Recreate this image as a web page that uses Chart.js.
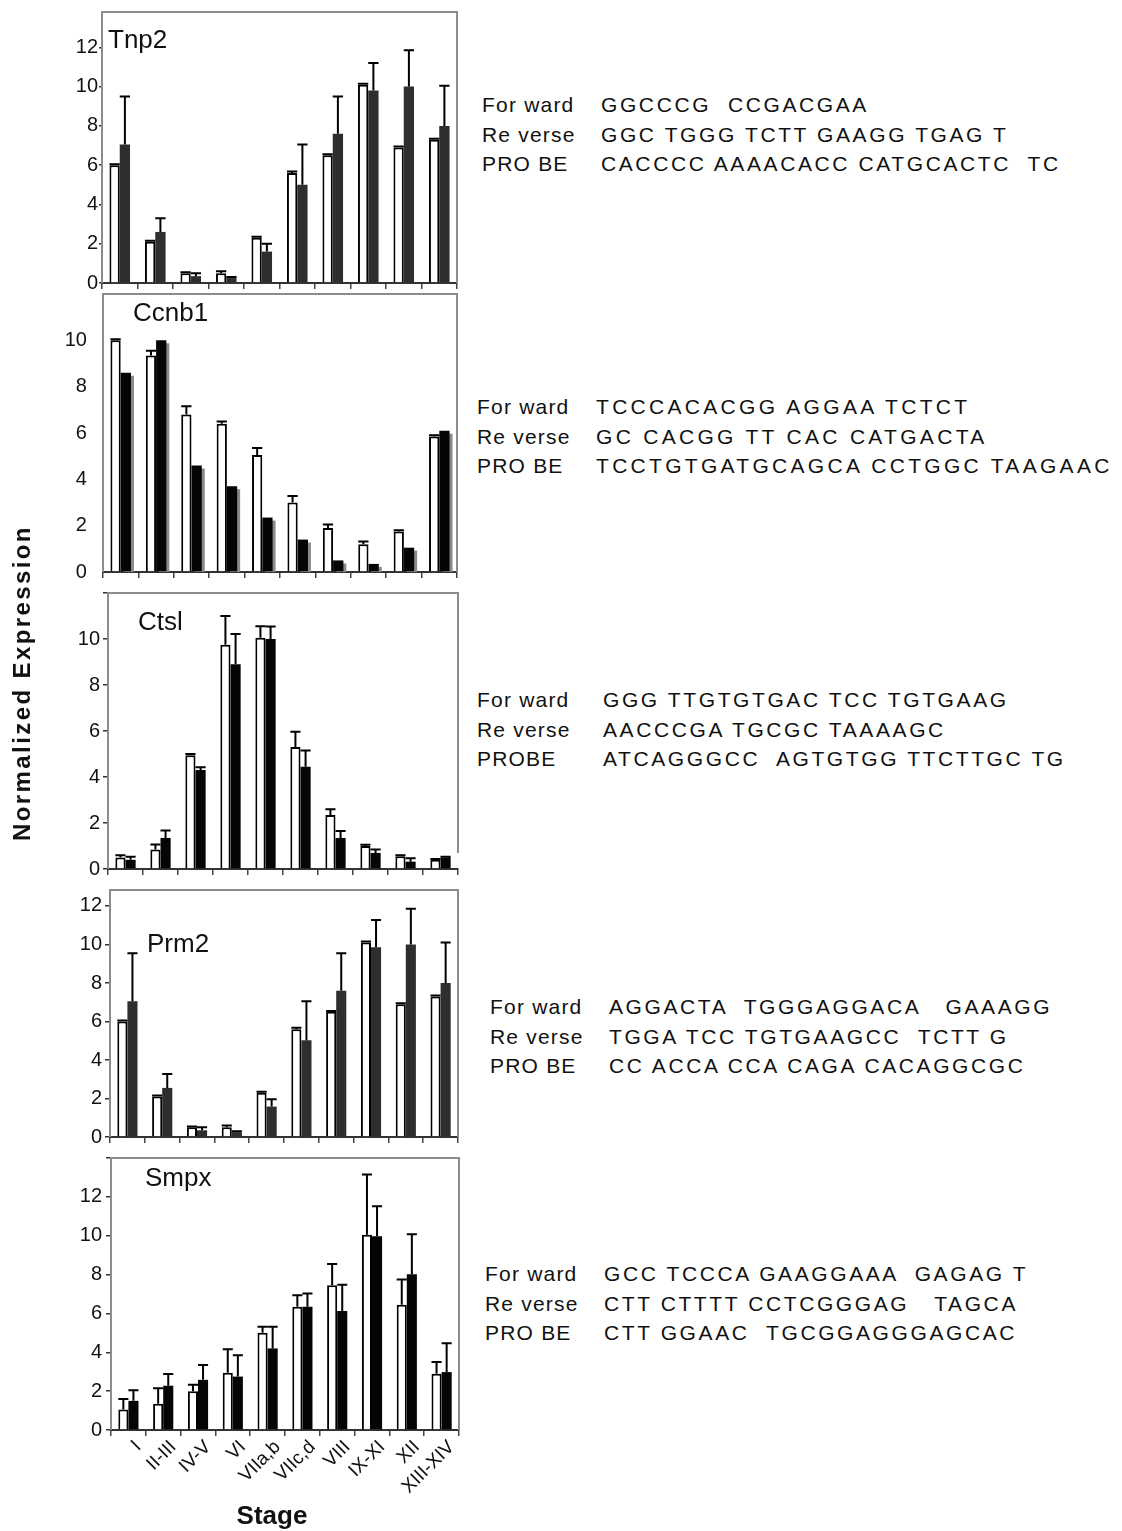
<!DOCTYPE html>
<html>
<head>
<meta charset="utf-8">
<script src="https://cdn.jsdelivr.net/npm/chart.js@4.4.0/dist/chart.umd.min.js"></script>
<style>
  body { margin: 0; background: #fff; }
  #page { position: relative; width: 1122px; height: 1531px; overflow: hidden;
    font-family: "Liberation Sans", Arial, sans-serif; color: #111; }
  canvas { position: absolute; left: 0; }
  .gene { position: absolute; font-size: 26px; line-height: 26px; white-space: pre; }
  .primers { position: absolute; font-size: 21px; line-height: 29.5px; white-space: pre; }
  .primers .lab { display: inline-block; width: 119px; letter-spacing: 1.2px; }
  .primers .seq { letter-spacing: 2.6px; }
  #ytitle { position: absolute; left: -143px; top: 668px; width: 330px; text-align: center;
    font-size: 24px; font-weight: bold; letter-spacing: 2.4px; transform: rotate(-90deg); line-height: 30px; }
  #xtitle { position: absolute; left: 222px; top: 1500px; width: 100px; text-align: center;
    font-size: 26px; font-weight: bold; line-height: 30px; }
</style>
</head>
<body>
<div id="page">
  <canvas id="c1"></canvas>
  <canvas id="c2"></canvas>
  <canvas id="c3"></canvas>
  <canvas id="c4"></canvas>
  <canvas id="c5"></canvas>

  <div class="gene" style="left:108px;top:26px">Tnp2</div>
  <div class="gene" style="left:133px;top:299px">Ccnb1</div>
  <div class="gene" style="left:138px;top:608px">Ctsl</div>
  <div class="gene" style="left:147px;top:930px">Prm2</div>
  <div class="gene" style="left:145px;top:1164px">Smpx</div>

  <div class="primers" style="left:482px;top:90px"><div><span class="lab">For ward</span><span class="seq">GGCCCG  CCGACGAA</span></div><div><span class="lab">Re verse</span><span class="seq">GGC TGGG TCTT GAAGG TGAG T</span></div><div><span class="lab">PRO BE</span><span class="seq">CACCCC AAAACACC CATGCACTC  TC</span></div></div>

  <div class="primers" style="left:477px;top:392px"><div><span class="lab">For ward</span><span class="seq" style="letter-spacing:3.3px">TCCCACACGG AGGAA TCTCT</span></div><div><span class="lab">Re verse</span><span class="seq" style="letter-spacing:3.3px">GC CACGG TT CAC CATGACTA</span></div><div><span class="lab">PRO BE</span><span class="seq" style="letter-spacing:3.3px">TCCTGTGATGCAGCA CCTGGC TAAGAAC</span></div></div>

  <div class="primers" style="left:477px;top:685px"><div><span class="lab" style="width:126px">For ward</span><span class="seq">GGG TTGTGTGAC TCC TGTGAAG</span></div><div><span class="lab" style="width:126px">Re verse</span><span class="seq">AACCCGA TGCGC TAAAAGC</span></div><div><span class="lab" style="width:126px">PROBE</span><span class="seq">ATCAGGGCC  AGTGTGG TTCTTGC TG</span></div></div>

  <div class="primers" style="left:490px;top:992px"><div><span class="lab">For ward</span><span class="seq">AGGACTA  TGGGAGGACA   GAAAGG</span></div><div><span class="lab">Re verse</span><span class="seq">TGGA TCC TGTGAAGCC  TCTT G</span></div><div><span class="lab">PRO BE</span><span class="seq">CC ACCA CCA CAGA CACAGGCGC</span></div></div>

  <div class="primers" style="left:485px;top:1259px"><div><span class="lab">For ward</span><span class="seq">GCC TCCCA GAAGGAAA  GAGAG T</span></div><div><span class="lab">Re verse</span><span class="seq">CTT CTTTT CCTCGGGAG   TAGCA</span></div><div><span class="lab">PRO BE</span><span class="seq">CTT GGAAC  TGCGGAGGGAGCAC</span></div></div>

  <div id="ytitle">Normalized Expression</div>
  <div id="xtitle">Stage</div>
</div>

<script>
const stages = ['I', 'II-III', 'IV-V', 'VI', 'VIIa,b', 'VIIc,d', 'VIII', 'IX-XI', 'XII', 'XIII-XIV']

// Tnp2
const tnp2White = [6.0, 2.1, 0.5, 0.5, 2.3, 5.6, 6.5, 10.1, 6.9, 7.3]
const tnp2WhiteErr = [0.05, 0.05, 0.05, 0.1, 0.05, 0.08, 0.05, 0.05, 0.05, 0.05]
const tnp2Dark = [7.05, 2.6, 0.35, 0.25, 1.6, 5.0, 7.6, 9.8, 10.0, 8.0]
const tnp2DarkErr = [2.45, 0.7, 0.15, 0.05, 0.4, 2.05, 1.9, 1.4, 1.85, 2.05]

// Ccnb1
const ccnb1White = [10.0, 9.35, 6.8, 6.4, 5.05, 3.0, 1.9, 1.2, 1.75, 5.85]
const ccnb1WhiteErr = [0.05, 0.2, 0.35, 0.1, 0.3, 0.28, 0.15, 0.12, 0.05, 0.05]
const ccnb1Dark = [8.6, 10.0, 4.6, 3.7, 2.35, 1.4, 0.5, 0.35, 1.05, 6.1]
const ccnb1DarkErr = [0, 0, 0, 0, 0, 0, 0, 0, 0, 0]

// Ctsl
const ctslWhite = [0.5, 0.85, 4.95, 9.75, 10.05, 5.3, 2.35, 1.0, 0.55, 0.4]
const ctslWhiteErr = [0.1, 0.22, 0.05, 1.25, 0.5, 0.67, 0.25, 0.05, 0.05, 0.03]
const ctslDark = [0.4, 1.35, 4.3, 8.9, 10.0, 4.45, 1.35, 0.7, 0.32, 0.5]
const ctslDarkErr = [0.13, 0.32, 0.12, 1.32, 0.54, 0.7, 0.3, 0.15, 0.15, 0.03]

// Prm2
const prm2White = [6.0, 2.1, 0.5, 0.5, 2.3, 5.6, 6.5, 10.1, 6.9, 7.3]
const prm2WhiteErr = [0.05, 0.05, 0.05, 0.1, 0.05, 0.08, 0.05, 0.05, 0.05, 0.05]
const prm2Dark = [7.05, 2.55, 0.35, 0.25, 1.58, 5.03, 7.6, 9.85, 10.0, 8.0]
const prm2DarkErr = [2.5, 0.72, 0.15, 0.05, 0.38, 2.02, 1.95, 1.42, 1.85, 2.1]

// Smpx
const smpxWhite = [1.05, 1.35, 2.0, 2.95, 5.0, 6.35, 7.45, 10.05, 6.45, 2.9]
const smpxWhiteErr = [0.55, 0.8, 0.33, 1.2, 0.32, 0.58, 1.1, 3.1, 1.3, 0.6]
const smpxDark = [1.5, 2.28, 2.58, 2.75, 4.2, 6.35, 6.12, 9.97, 8.02, 2.98]
const smpxDarkErr = [0.54, 0.6, 0.77, 1.1, 1.12, 0.67, 1.36, 1.55, 2.05, 1.48]

const FONT = '"Liberation Sans", Arial, sans-serif'
const CANVAS_W = 470
const PAD_TOP = 15

// error bars on top of each bar, drawn through the y scale
const errorBars = {
  id: 'errorBars',
  afterDatasetsDraw(chart) {
    const ctx = chart.ctx
    const y = chart.scales.y
    chart.data.datasets.forEach((ds, i) => {
      if (!ds.err) return
      const meta = chart.getDatasetMeta(i)
      ctx.save()
      ctx.strokeStyle = '#000'
      ctx.lineWidth = 2
      meta.data.forEach((bar, j) => {
        const e = ds.err[j]
        if (!e) return
        const top = y.getPixelForValue(ds.data[j] + e)
        const half = bar.width / 2
        ctx.beginPath()
        ctx.moveTo(bar.x, bar.y)
        ctx.lineTo(bar.x, top)
        ctx.moveTo(bar.x - half, top)
        ctx.lineTo(bar.x + half, top)
        ctx.stroke()
      })
      ctx.restore()
    })
  }
}

// gray drop shadow behind the black bars (Ccnb1)
const barShadow = {
  id: 'barShadow',
  beforeDatasetDraw(chart, args) {
    if (!chart.data.datasets[args.index].shadow) return
    const ctx = chart.ctx
    ctx.save()
    ctx.shadowColor = '#8a8a8a'
    ctx.shadowOffsetX = 3
    ctx.shadowOffsetY = 3
    ctx.shadowBlur = 0
  },
  afterDatasetDraw(chart, args) {
    if (!chart.data.datasets[args.index].shadow) return
    chart.ctx.restore()
  }
}

// gray plot-area frame (left, top, right)
const frame = {
  id: 'frame',
  afterDraw(chart) {
    const { ctx, chartArea: a } = chart
    ctx.save()
    ctx.strokeStyle = '#8c8c8c'
    ctx.lineWidth = 2
    ctx.beginPath()
    ctx.moveTo(a.left, a.bottom)
    ctx.lineTo(a.left, a.top)
    ctx.lineTo(a.right, a.top)
    ctx.lineTo(a.right, a.bottom - (chart.options.frameGap || 0))
    ctx.stroke()
    ctx.restore()
  }
}

function makePanel(id, box, opts) {
  const canvas = document.getElementById(id)
  const h = box.bottom - box.top + PAD_TOP + opts.xHeight
  canvas.width = CANVAS_W
  canvas.height = h
  canvas.style.top = (box.top - PAD_TOP) + 'px'
  canvas.style.width = CANVAS_W + 'px'
  canvas.style.height = h + 'px'

  return new Chart(canvas, {
    type: 'bar',
    data: {
      labels: stages,
      datasets: [
        {
          data: opts.white,
          err: opts.whiteErr,
          backgroundColor: '#fff',
          borderColor: '#000',
          borderWidth: 2,
          categoryPercentage: 0.58,
          barPercentage: 1.0,
        },
        {
          data: opts.dark,
          err: opts.darkErr,
          shadow: !!opts.shadow,
          backgroundColor: opts.darkColor,
          borderWidth: 0,
          categoryPercentage: 0.58,
          barPercentage: 1.0,
        },
      ],
    },
    options: {
      responsive: false,
      animation: false,
      devicePixelRatio: 1,
      frameGap: opts.frameGap || 0,
      layout: {
        autoPadding: false,
        padding: { top: PAD_TOP, left: 0, right: CANVAS_W - box.right, bottom: 0 },
      },
      plugins: { legend: { display: false }, tooltip: { enabled: false } },
      scales: {
        x: {
          afterFit(s) {
            s.height = opts.xHeight
            s.paddingLeft = 0
            s.paddingRight = 0
          },
          ticks: {
            display: !!opts.showLabels,
            autoSkip: false,
            minRotation: 45,
            maxRotation: 45,
            padding: 0,
            labelOffset: 10,
            color: '#111',
            font: { family: FONT, size: 19 },
          },
          grid: { drawOnChartArea: false, drawTicks: true, tickLength: 6, color: '#444', lineWidth: 1.5, offset: true },
          border: { display: true, color: '#333', width: 2 },
        },
        y: {
          min: 0,
          max: opts.max,
          afterFit(s) {
            s.width = box.left
            s.paddingTop = 0
            s.paddingBottom = 0
          },
          ticks: {
            stepSize: 2,
            includeBounds: false,
            padding: opts.tickPad,
            color: '#111',
            font: { family: FONT, size: 20 },
            callback: v => (v > opts.labelMax ? '' : v),
          },
          grid: {
            drawOnChartArea: false,
            drawTicks: true,
            tickLength: opts.tickLen,
            color: opts.tickLen > 0.5 ? '#333' : 'rgba(0,0,0,0)',
            lineWidth: 1.5,
          },
          border: { display: false },
        },
      },
    },
    plugins: [barShadow, errorBars, frame],
  })
}

makePanel('c1', { left: 102, top: 12, right: 457, bottom: 283 }, {
  white: tnp2White, whiteErr: tnp2WhiteErr, dark: tnp2Dark, darkErr: tnp2DarkErr,
  darkColor: '#2e2e2e', max: 13.8, labelMax: 12, tickLen: 3, tickPad: 1, xHeight: 12,
})
makePanel('c2', { left: 103, top: 294, right: 457, bottom: 572 }, {
  white: ccnb1White, whiteErr: ccnb1WhiteErr, dark: ccnb1Dark, darkErr: ccnb1DarkErr,
  darkColor: '#050505', shadow: true, max: 12, labelMax: 10, tickLen: 0.01, tickPad: 16, xHeight: 12,
})
makePanel('c3', { left: 108, top: 593, right: 458, bottom: 869 }, {
  white: ctslWhite, whiteErr: ctslWhiteErr, dark: ctslDark, darkErr: ctslDarkErr,
  darkColor: '#050505', max: 12, labelMax: 10, tickLen: 5, tickPad: 3, xHeight: 12, frameGap: 16,
})
makePanel('c4', { left: 110, top: 890, right: 458, bottom: 1137 }, {
  white: prm2White, whiteErr: prm2WhiteErr, dark: prm2Dark, darkErr: prm2DarkErr,
  darkColor: '#2e2e2e', max: 12.83, labelMax: 12, tickLen: 5, tickPad: 3, xHeight: 12,
})
makePanel('c5', { left: 111, top: 1158, right: 459, bottom: 1430 }, {
  white: smpxWhite, whiteErr: smpxWhiteErr, dark: smpxDark, darkErr: smpxDarkErr,
  darkColor: '#050505', max: 14, labelMax: 12, tickLen: 5, tickPad: 4, xHeight: 90, showLabels: true,
})
</script>
</body>
</html>
